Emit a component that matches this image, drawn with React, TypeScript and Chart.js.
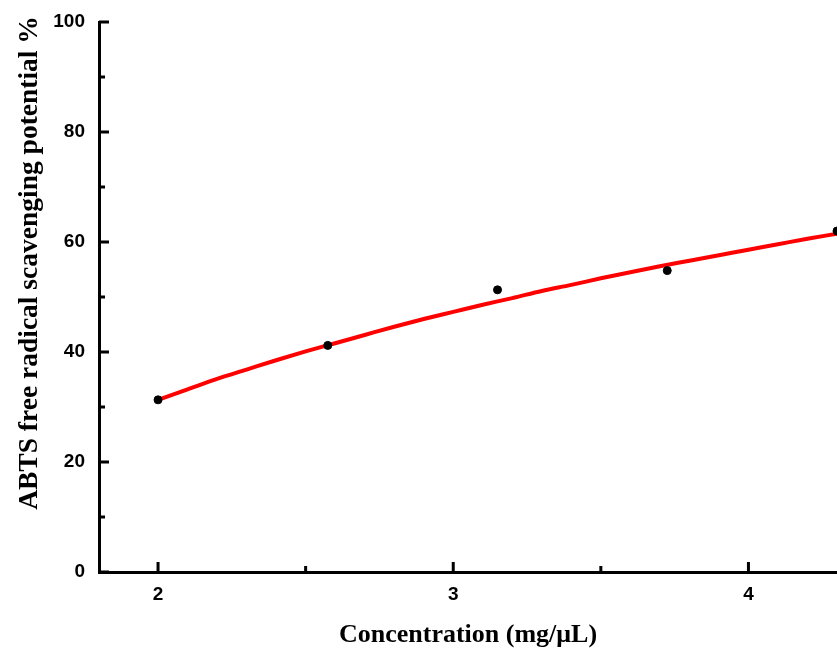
import React, { useEffect, useRef } from "react";
import { Chart, registerables } from "chart.js";

Chart.register(...registerables);

// Measured points (concentration, scavenging %)
const concentrations = [2.0, 2.575, 3.15, 3.725, 4.3];
const scavenging = [31.3, 41.2, 51.3, 54.8, 62.0];

// Fitted red curve
const fitX = [2.0, 2.1, 2.2, 2.3, 2.4, 2.5, 2.6, 2.7, 2.8, 2.9, 3.0, 3.1, 3.2, 3.3, 3.4, 3.5, 3.6, 3.7, 3.8, 3.9, 4.0, 4.1, 4.2, 4.3];
const fitY = [31.3, 33.2, 35.1, 36.8, 38.5, 40.1, 41.6, 43.1, 44.6, 46.0, 47.3, 48.6, 49.8, 51.1, 52.2, 53.4, 54.5, 55.6, 56.6, 57.6, 58.6, 59.6, 60.6, 61.5];

// Axis ticks
const xMajorTicks = [2, 3, 4];
const xMinorTicks = [2.5, 3.5];
const yMajorTicks = [0, 20, 40, 60, 80, 100];
const yMinorTicks = [10, 30, 50, 70, 90];

const xTitle = "Concentration (mg/\u03bcL)";
const yTitle = "ABTS free radical scavenging potential %";

const axisDecor = {
  id: "axisDecor",
  afterDraw(chart: any) {
    const { ctx, chartArea, scales } = chart;
    const x = scales.x;
    const y = scales.y;
    ctx.save();
    ctx.strokeStyle = "#000";
    ctx.lineWidth = 3;
    ctx.lineCap = "butt";
    const b = chartArea.bottom;
    const l = chartArea.left;
    ctx.beginPath();
    xMajorTicks.forEach((v) => {
      const px = x.getPixelForValue(v);
      ctx.moveTo(px, b);
      ctx.lineTo(px, b - 10);
    });
    xMinorTicks.forEach((v) => {
      const px = x.getPixelForValue(v);
      ctx.moveTo(px, b);
      ctx.lineTo(px, b - 6);
    });
    yMajorTicks.forEach((v) => {
      const py = y.getPixelForValue(v);
      ctx.moveTo(l, py);
      ctx.lineTo(l + 10, py);
    });
    yMinorTicks.forEach((v) => {
      const py = y.getPixelForValue(v);
      ctx.moveTo(l, py);
      ctx.lineTo(l + 6, py);
    });
    ctx.stroke();

    ctx.fillStyle = "#000";
    ctx.textAlign = "center";
    ctx.textBaseline = "middle";
    ctx.font = 'bold 26px "Liberation Serif"';
    ctx.fillText(xTitle, (chartArea.left + chartArea.right) / 2, 635);
    ctx.font = 'bold 27.5px "Liberation Serif"';
    ctx.translate(30, 263);
    ctx.rotate(-Math.PI / 2);
    ctx.fillText(yTitle, 0, 0);
    ctx.restore();
  },
};

export default function App() {
  const ref = useRef<HTMLCanvasElement | null>(null);

  useEffect(() => {
    document.body.style.margin = "0";
    document.body.style.overflow = "hidden";
    const canvas = ref.current;
    if (!canvas) return;
    const chart = new Chart(canvas, {
      type: "scatter",
      data: {
        datasets: [
          {
            label: "data",
            data: concentrations.map((c, i) => ({ x: c, y: scavenging[i] })),
            backgroundColor: "#000",
            borderColor: "#000",
            pointRadius: 4,
            pointStyle: "circle",
            order: 0,
          },
          {
            label: "fit",
            type: "line",
            data: fitX.map((c, i) => ({ x: c, y: fitY[i] })),
            borderColor: "#ff0000",
            borderWidth: 4,
            pointRadius: 0,
            fill: false,
            cubicInterpolationMode: "monotone",
            order: 1,
          } as any,
        ],
      },
      options: {
        responsive: false,
        animation: false,
        layout: { autoPadding: false, padding: { top: 22, left: 0, right: 0, bottom: 0 } },
        plugins: {
          legend: { display: false },
          tooltip: { enabled: false },
        },
        scales: {
          x: {
            type: "linear",
            min: 1.8,
            max: 4.3,
            afterBuildTicks: (s: any) => {
              s.ticks = xMajorTicks.map((v) => ({ value: v }));
            },
            afterFit: (s: any) => {
              s.height = 78;
              s.paddingLeft = 0;
              s.paddingRight = 0;
            },
            grid: { display: false },
            border: { display: true, color: "#000", width: 3 },
            ticks: {
              color: "#000",
              padding: 3,
              font: { family: '"Liberation Sans"', size: 19, weight: "bold" },
            },
          },
          y: {
            type: "linear",
            min: 0,
            max: 100,
            afterBuildTicks: (s: any) => {
              s.ticks = yMajorTicks.map((v) => ({ value: v }));
            },
            afterFit: (s: any) => {
              s.width = 99;
              s.paddingTop = 0;
              s.paddingBottom = 0;
            },
            grid: { display: false },
            border: { display: true, color: "#000", width: 3 },
            ticks: {
              color: "#000",
              padding: 6,
              font: { family: '"Liberation Sans"', size: 19, weight: "bold" },
            },
          },
        },
      },
      plugins: [axisDecor],
    });
    return () => chart.destroy();
  }, []);

  return (
    <div style={{ width: 837, height: 650, background: "#fff" }}>
      <canvas ref={ref} width={837} height={650} />
    </div>
  );
}
